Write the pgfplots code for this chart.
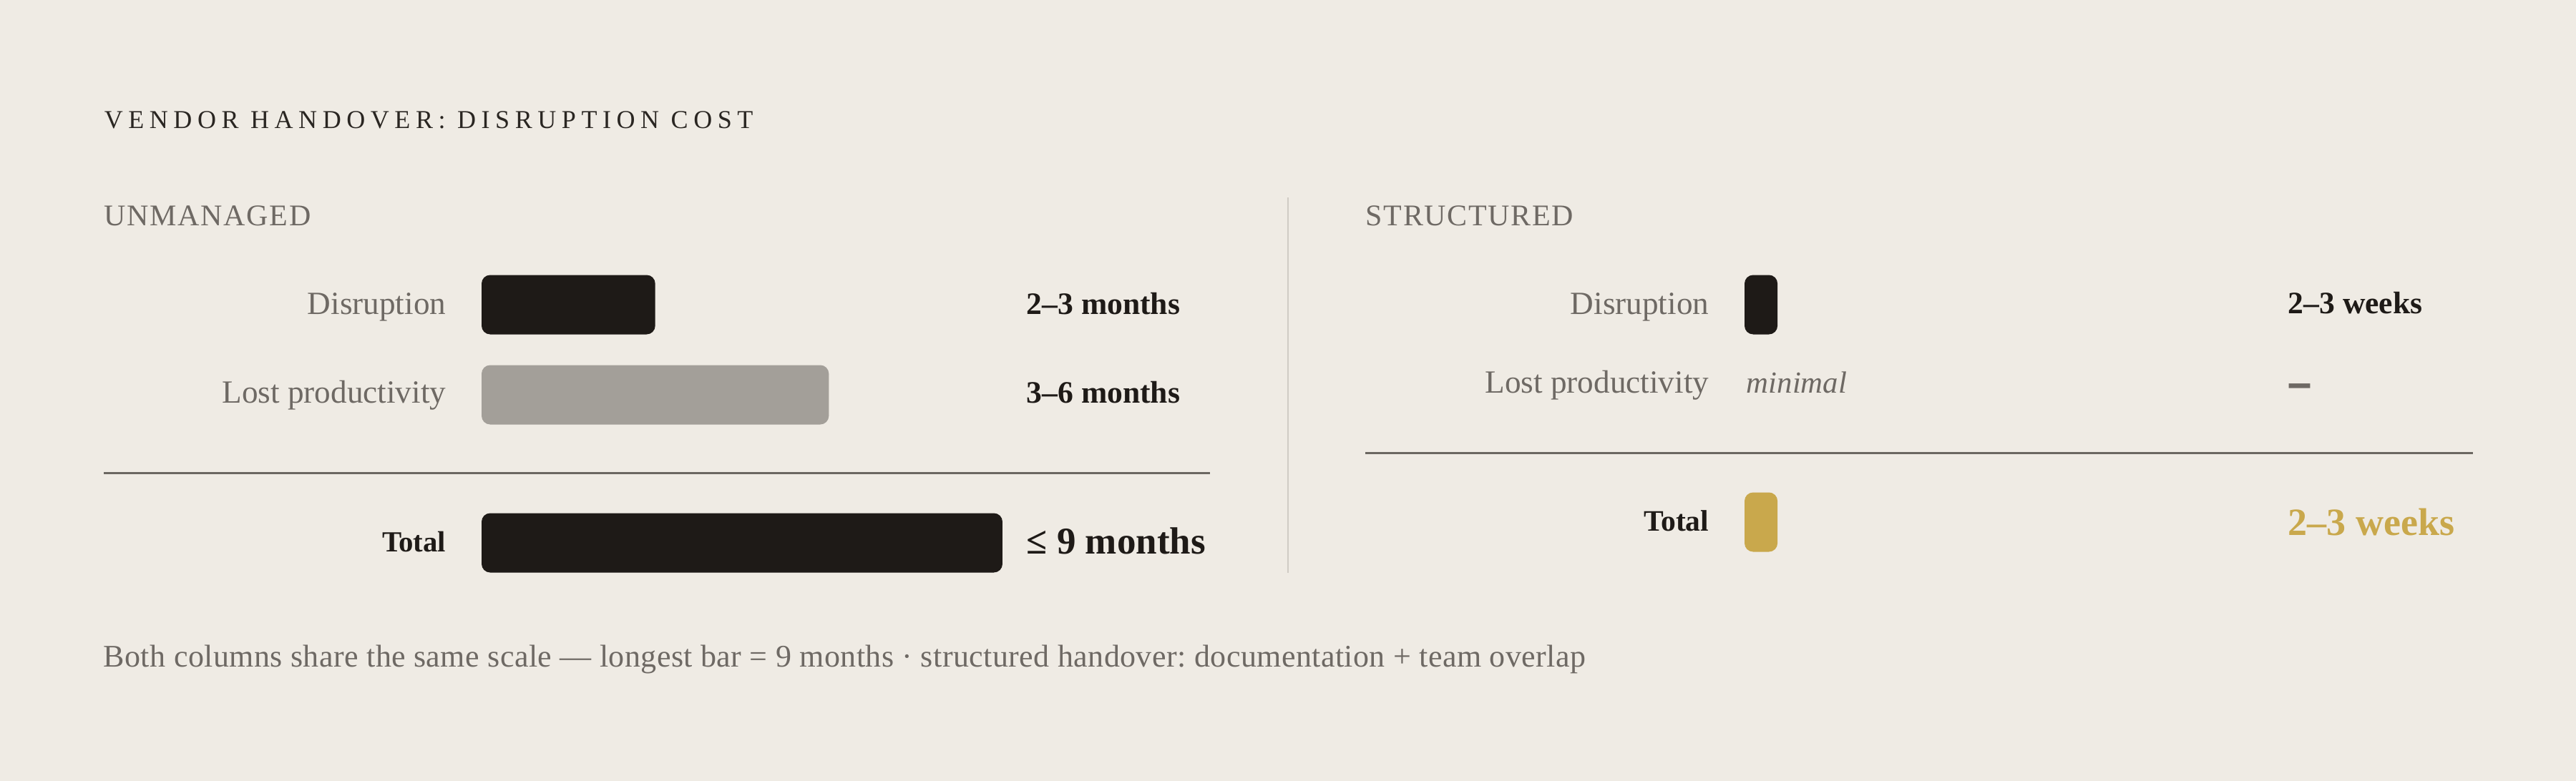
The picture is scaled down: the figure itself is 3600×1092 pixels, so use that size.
\documentclass[border=0pt]{standalone}
\usepackage{pgfplots}
\pgfplotsset{compat=1.18}
\usepackage{fontspec}
\setmainfont{Liberation Serif}
\newfontfamily\spacedA[LetterSpace=21]{Liberation Serif}
\newfontfamily\spacedB[LetterSpace=4]{Liberation Serif}
\newfontfamily\spacedC[LetterSpace=1]{Liberation Serif}
\frenchspacing
\definecolor{bg}{HTML}{EFEBE4}
\definecolor{darkc}{HTML}{1E1A17}
\definecolor{greyc}{HTML}{A39F99}
\definecolor{goldc}{HTML}{C9A84C}
\definecolor{labelc}{HTML}{6E6964}
\definecolor{titlec}{HTML}{2A2622}
\definecolor{sepc}{HTML}{6B6761}
\definecolor{divc}{HTML}{D0CBC4}
\pgfplotsset{
  panel/.style={scale only axis, width=182pt, height=273pt, xmin=0, xmax=9,
    ymin=-1092, ymax=0, hide axis, clip=false, anchor=north west},
  hbar/.style={xbar, bar shift=0pt, bar width=83, draw=none, rounded corners=3pt},
}
\begin{document}
\begin{tikzpicture}[x=0.25pt,y=-0.25pt]
\fill[bg] (0,0) rectangle (3600,1092);
\useasboundingbox (0,0) rectangle (3600,1092);
% title
\node[anchor=base west, inner sep=0, text=titlec, font=\spacedA\fontsize{9}{10}\selectfont] at (145,180) {VENDOR HANDOVER: DISRUPTION COST};
\node[anchor=base west, inner sep=0, text=labelc, font=\spacedB\fontsize{10.5}{12}\selectfont] at (145,315) {UNMANAGED};
\node[anchor=base west, inner sep=0, text=labelc, font=\spacedB\fontsize{10.5}{12}\selectfont] at (1908,315) {STRUCTURED};
% divider and separators
\draw[divc, line width=0.5pt] (1800,276) -- (1800,801);
\draw[sepc, line width=0.75pt] (145,661) -- (1691,661);
\draw[sepc, line width=0.75pt] (1908,633) -- (3456,633);
% left labels
\node[anchor=base east, inner sep=0, text=labelc, font=\fontsize{11.3}{13}\selectfont] at (624,439) {Disruption};
\node[anchor=base east, inner sep=0, text=labelc, font=\fontsize{11.3}{13}\selectfont] at (624,563) {Lost productivity};
\node[anchor=base east, inner sep=0, text=darkc, font=\bfseries\fontsize{10.2}{12}\selectfont] at (624,771) {Total};
\node[anchor=base west, inner sep=0, text=darkc, font=\bfseries\fontsize{10.9}{12}\selectfont] at (1434,439) {2–3 months};
\node[anchor=base west, inner sep=0, text=darkc, font=\bfseries\fontsize{10.9}{12}\selectfont] at (1434,563) {3–6 months};
\node[anchor=base west, inner sep=0, text=darkc, font=\bfseries\fontsize{13.25}{15}\selectfont] at (1434,774) {≤ 9 months};
% right labels
\node[anchor=base east, inner sep=0, text=labelc, font=\fontsize{11.3}{13}\selectfont] at (2389,439) {Disruption};
\node[anchor=base east, inner sep=0, text=labelc, font=\fontsize{11.3}{13}\selectfont] at (2389,549) {Lost productivity};
\node[anchor=base east, inner sep=0, text=darkc, font=\bfseries\fontsize{10.4}{12}\selectfont] at (2389,742) {Total};
\node[anchor=base west, inner sep=0, text=labelc, font=\itshape\fontsize{10.7}{12}\selectfont] at (2440,549) {minimal};
\node[anchor=base west, inner sep=0, text=darkc, font=\bfseries\fontsize{10.9}{12}\selectfont] at (3197,438) {2–3 weeks};
\node[anchor=base west, inner sep=0, text=labelc, font=\bfseries\fontsize{14.5}{16}\selectfont] at (3199,561) {\scalebox{1}[1.6]{–}};
\node[anchor=base west, inner sep=0, text=goldc, font=\bfseries\fontsize{13.5}{15}\selectfont] at (3197,748) {2–3 weeks};
% footer
\node[anchor=base west, inner sep=0, text=labelc, font=\spacedC\fontsize{11}{12}\selectfont] at (144,932) {Both columns share the same scale — longest bar = 9 months · structured handover: documentation + team overlap};
% left panel bars
\begin{axis}[panel, at={(168.25pt,0pt)}]
\addplot[hbar, fill=darkc] coordinates {(3,-426)};
\addplot[hbar, fill=greyc] coordinates {(6,-552)};
\addplot[hbar, fill=darkc] coordinates {(9,-759)};
\end{axis}
% right panel bars
\begin{axis}[panel, at={(609.5pt,0pt)}]
\addplot[hbar, fill=darkc] coordinates {(0.57,-426)};
\addplot[hbar, fill=goldc] coordinates {(0.57,-730)};
\end{axis}
\end{tikzpicture}
\end{document}
